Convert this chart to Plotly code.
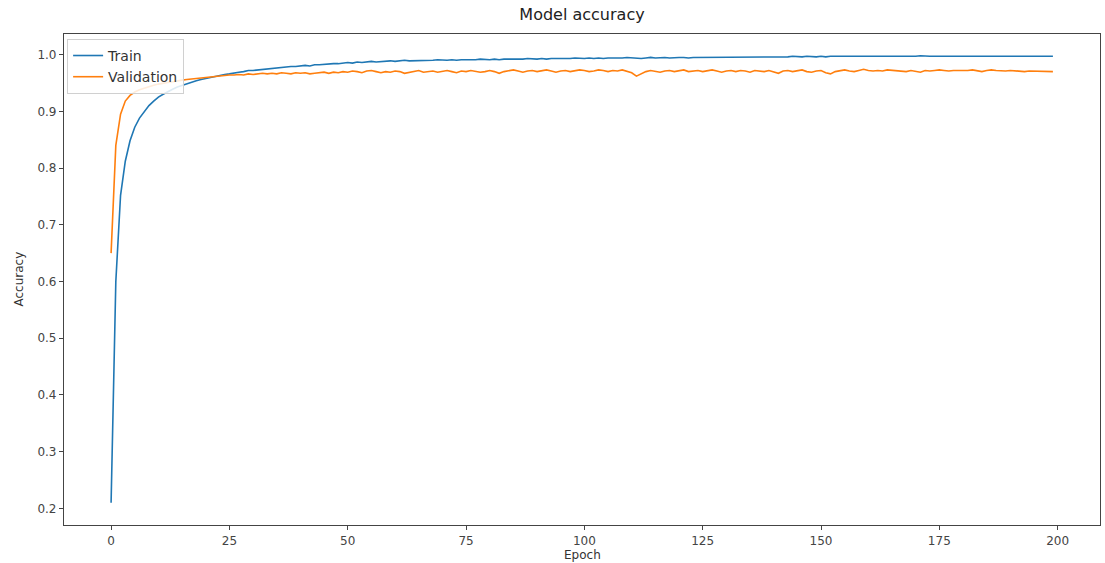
import plotly.graph_objects as go

epochs = list(range(200))

train_acc = [
    0.210, 0.600, 0.752, 0.812, 0.848, 0.872, 0.888, 0.900, 0.910, 0.918,
    0.925, 0.930, 0.935, 0.939, 0.943, 0.946, 0.949, 0.951, 0.954, 0.956,
    0.958, 0.960, 0.961, 0.963, 0.965, 0.966, 0.968, 0.969, 0.970, 0.972,
    0.972, 0.973, 0.974, 0.975, 0.976, 0.976, 0.977, 0.978, 0.979, 0.979,
    0.980, 0.981, 0.980, 0.982, 0.982, 0.983, 0.983, 0.984, 0.984, 0.985,
    0.986, 0.985, 0.987, 0.986, 0.987, 0.988, 0.987, 0.988, 0.988, 0.989,
    0.988, 0.989, 0.990, 0.989, 0.989, 0.990, 0.989, 0.990, 0.990, 0.991,
    0.990, 0.990, 0.991, 0.990, 0.991, 0.991, 0.990, 0.991, 0.992, 0.991,
    0.991, 0.992, 0.991, 0.992, 0.992, 0.991, 0.992, 0.992, 0.993, 0.992,
    0.992, 0.993, 0.992, 0.993, 0.993, 0.992, 0.993, 0.993, 0.994, 0.993,
    0.993, 0.994, 0.993, 0.994, 0.993, 0.994, 0.994, 0.993, 0.994, 0.995,
    0.994, 0.994, 0.993, 0.994, 0.995, 0.994, 0.995, 0.995, 0.994, 0.995,
    0.995, 0.995, 0.994, 0.995, 0.995, 0.996, 0.995, 0.995, 0.996, 0.995,
    0.996, 0.995, 0.996, 0.996, 0.995, 0.996, 0.996, 0.996, 0.995, 0.996,
    0.996, 0.996, 0.995, 0.996, 0.997, 0.996, 0.996, 0.997, 0.996, 0.996,
    0.997, 0.996, 0.997, 0.997, 0.996, 0.997, 0.997, 0.997, 0.996, 0.997,
    0.997, 0.997, 0.997, 0.996, 0.997, 0.997, 0.997, 0.997, 0.997, 0.997,
    0.997, 0.998, 0.997, 0.997, 0.997, 0.997, 0.998, 0.997, 0.997, 0.997,
    0.998, 0.997, 0.997, 0.997, 0.998, 0.997, 0.997, 0.998, 0.997, 0.997,
    0.997, 0.998, 0.997, 0.997, 0.997, 0.998, 0.997, 0.997, 0.997, 0.997,
]

val_acc = [
    0.650, 0.840, 0.895, 0.918, 0.928, 0.934, 0.938, 0.941, 0.944, 0.946,
    0.948, 0.950, 0.951, 0.952, 0.954, 0.955, 0.956, 0.957, 0.958, 0.959,
    0.960, 0.961, 0.961, 0.962, 0.963, 0.964, 0.964, 0.965, 0.964, 0.966,
    0.965, 0.966, 0.967, 0.966, 0.967, 0.966, 0.968, 0.967, 0.966, 0.968,
    0.967, 0.968, 0.966, 0.967, 0.968, 0.969, 0.967, 0.969, 0.968, 0.970,
    0.969, 0.971, 0.970, 0.968, 0.971, 0.972, 0.970, 0.968, 0.970, 0.969,
    0.971, 0.970, 0.967, 0.969, 0.970, 0.972, 0.969, 0.970, 0.971, 0.969,
    0.970, 0.972, 0.970, 0.968, 0.971, 0.970, 0.972, 0.971, 0.969, 0.970,
    0.972, 0.970, 0.967, 0.970, 0.971, 0.973, 0.971, 0.969, 0.971, 0.972,
    0.970, 0.971, 0.973, 0.971, 0.969, 0.971, 0.972, 0.970, 0.971, 0.973,
    0.972, 0.970, 0.971, 0.973, 0.972, 0.970, 0.972, 0.971, 0.973, 0.971,
    0.968, 0.962, 0.966, 0.970, 0.972, 0.971, 0.969, 0.971, 0.972, 0.970,
    0.971, 0.973, 0.970, 0.971, 0.972, 0.970, 0.971, 0.973, 0.971, 0.969,
    0.971, 0.972, 0.970, 0.972, 0.971, 0.969, 0.972, 0.971, 0.970, 0.972,
    0.970, 0.967, 0.971, 0.972, 0.970, 0.971, 0.973, 0.970, 0.969, 0.971,
    0.972, 0.968, 0.966, 0.970, 0.972, 0.973, 0.971, 0.970, 0.972, 0.974,
    0.972, 0.971, 0.972, 0.971, 0.973, 0.972, 0.972, 0.971, 0.970, 0.972,
    0.971, 0.969, 0.972, 0.971, 0.972, 0.973, 0.972, 0.971, 0.972, 0.972,
    0.971, 0.972, 0.973, 0.971, 0.970, 0.972, 0.973, 0.972, 0.971, 0.971,
    0.972, 0.971, 0.971, 0.970, 0.971, 0.971, 0.970, 0.971, 0.970, 0.970,
]

x_ticks = [0, 25, 50, 75, 100, 125, 150, 175, 200]
y_ticks = [0.2, 0.3, 0.4, 0.5, 0.6, 0.7, 0.8, 0.9, 1.0]

FONT = "DejaVu Sans"
AXIS_COLOR = "#444444"
TICK_FONT_COLOR = "#444444"

W, H = 1105, 563
ML, MR, MT, MB = 64, 5, 34, 38

fig = go.Figure()
fig.add_trace(go.Scatter(x=epochs, y=train_acc, mode="lines", name="Train",
                         line=dict(color="#1f77b4", width=1.6)))
fig.add_trace(go.Scatter(x=epochs, y=val_acc, mode="lines", name="Validation",
                         line=dict(color="#ff7f0e", width=1.6)))

fig.update_layout(
    width=W, height=H,
    margin=dict(l=ML, r=MR, t=MT, b=MB, autoexpand=False),
    paper_bgcolor="white", plot_bgcolor="white",
    font=dict(family=FONT, size=12, color=TICK_FONT_COLOR),
    title=dict(text="Model accuracy", x=(ML + W - MR) / 2 / W, xanchor="center",
               y=1 - 14 / H, yanchor="middle",
               font=dict(family=FONT, size=16, color="#222222")),
    showlegend=True,
    legend=dict(x=0.003, y=0.99, xanchor="left", yanchor="top",
                bgcolor="rgba(255,255,255,0.85)", bordercolor="#d0d0d0",
                borderwidth=1, font=dict(family=FONT, size=14, color="#333333"),
                tracegroupgap=0, itemwidth=30),
    annotations=[
        dict(text="Epoch", xref="paper", yref="paper",
             x=0.5, y=-(555 - (H - MB)) / (H - MT - MB),
             xanchor="center", yanchor="middle", showarrow=False,
             font=dict(family=FONT, size=12, color="#333333")),
        dict(text="Accuracy", xref="paper", yref="paper",
             x=-(ML - 18) / (W - ML - MR), y=0.5,
             xanchor="center", yanchor="middle", showarrow=False, textangle=-90,
             font=dict(family=FONT, size=12, color="#333333")),
    ],
)

fig.update_xaxes(
    range=[-9.95, 208.95], tickmode="array", tickvals=x_ticks,
    ticktext=[str(v) for v in x_ticks], automargin=False,
    showgrid=False, zeroline=False, showline=True, mirror=True,
    linecolor=AXIS_COLOR, linewidth=1.2, ticks="outside", ticklen=4,
    tickcolor=AXIS_COLOR, tickfont=dict(size=12, color=TICK_FONT_COLOR),
)
fig.update_yaxes(
    range=[0.1707, 1.0363], tickmode="array", tickvals=y_ticks,
    ticktext=[f"{v:.1f}" for v in y_ticks], automargin=False,
    showgrid=False, zeroline=False, showline=True, mirror=True,
    linecolor=AXIS_COLOR, linewidth=1.2, ticks="outside", ticklen=4,
    tickcolor=AXIS_COLOR, tickfont=dict(size=12, color=TICK_FONT_COLOR),
)

fig.write_html(
    "out.html",
    config={"displayModeBar": False},
    post_script="document.body.style.margin='0';document.body.style.overflow='hidden';",
)
